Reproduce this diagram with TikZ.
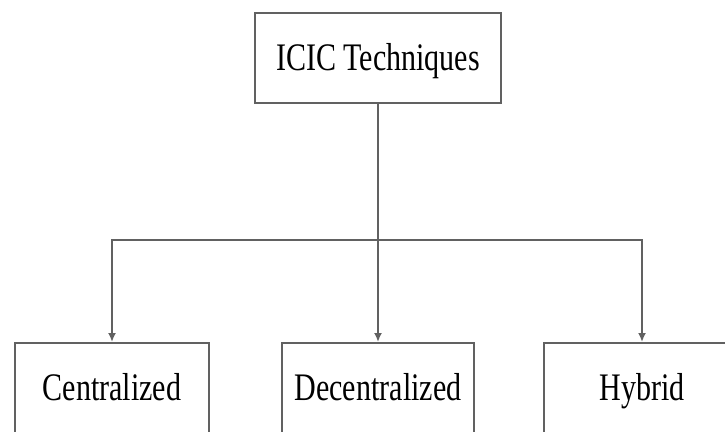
\documentclass[tikz,border=0pt]{standalone}
\usepackage{fontspec}
\setmainfont{Liberation Serif}[FakeStretch=0.77]
\usepackage{tikz}
\usetikzlibrary{arrows.meta}

\begin{document}
\begin{tikzpicture}[x=1pt, y=-1pt, >={Latex[length=9pt, width=8pt]},
        block/.style={draw=black!62, line width=2.2pt, minimum height=90pt, text height=27pt, text depth=3pt, inner sep=0pt, font=\fontsize{39}{41}\selectfont},
        link/.style={draw=black!62, line width=2.2pt}]
        \useasboundingbox (0,0) rectangle (725,431);

        \node[block, minimum width=246pt, anchor=north] (icic) at (378,12) {ICIC Techniques};
        \node[block, minimum width=194pt, anchor=north] (cen) at (112,342) {Centralized};
        \node[block, minimum width=192pt, anchor=north] (dec) at (378,342) {Decentralized};
        \node[block, minimum width=196pt, anchor=north] (hyb) at (642,342) {Hybrid};

        \coordinate (split) at (378,240);
        \draw[link, ->] (icic) -- (dec);
        \draw[link, ->] (split) -| (cen);
        \draw[link, ->] (split) -| (hyb);
    \end{tikzpicture}
\end{document}
